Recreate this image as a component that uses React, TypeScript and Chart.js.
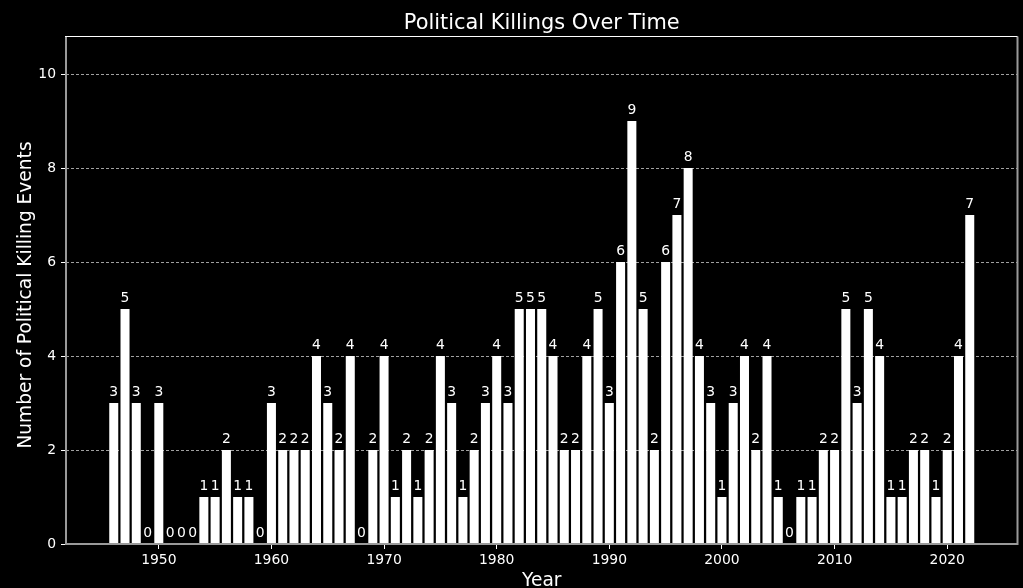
import React, { useEffect, useRef } from "react";
import { Chart, registerables } from "chart.js";

Chart.register(...registerables);

const years: number[] = [
  1946, 1947, 1948, 1949, 1950, 1951, 1952, 1953, 1954, 1955, 1956, 1957, 1958, 1959,
  1960, 1961, 1962, 1963, 1964, 1965, 1966, 1967, 1968, 1969,
  1970, 1971, 1972, 1973, 1974, 1975, 1976, 1977, 1978, 1979,
  1980, 1981, 1982, 1983, 1984, 1985, 1986, 1987, 1988, 1989,
  1990, 1991, 1992, 1993, 1994, 1995, 1996, 1997, 1998, 1999,
  2000, 2001, 2002, 2003, 2004, 2005, 2006, 2007, 2008, 2009,
  2010, 2011, 2012, 2013, 2014, 2015, 2016, 2017, 2018, 2019,
  2020, 2021, 2022,
];

const killings: number[] = [
  3, 5, 3, 0, 3, 0, 0, 0, 1, 1, 2, 1, 1, 0,
  3, 2, 2, 2, 4, 3, 2, 4, 0, 2,
  4, 1, 2, 1, 2, 4, 3, 1, 2, 3,
  4, 3, 5, 5, 5, 4, 2, 2, 4, 5,
  3, 6, 9, 5, 2, 6, 7, 8, 4, 3,
  1, 3, 4, 2, 4, 1, 0, 1, 1, 2,
  2, 5, 3, 5, 4, 1, 1, 2, 2, 1,
  2, 4, 7,
];

const xTicks: number[] = [1950, 1960, 1970, 1980, 1990, 2000, 2010, 2020];
const yTicks: number[] = [0, 2, 4, 6, 8, 10];

const titleText = "Political Killings Over Time";
const xLabel = "Year";
const yLabel = "Number of Political Killing Events";

const FONT = "'DejaVu Sans', sans-serif";

export default function App() {
  const ref = useRef<HTMLCanvasElement | null>(null);

  useEffect(() => {
    document.body.style.margin = "0";
    document.body.style.background = "#000";
    const canvas = ref.current;
    if (!canvas) return;

    const labelsPlugin = {
      id: "valueLabels",
      afterDatasetsDraw(chart: any) {
        const ctx = chart.ctx;
        const meta = chart.getDatasetMeta(0);
        ctx.save();
        ctx.fillStyle = "#ffffff";
        ctx.font = `13.9px ${FONT}`;
        ctx.textAlign = "center";
        ctx.textBaseline = "alphabetic";
        meta.data.forEach((bar: any, i: number) => {
          ctx.fillText(String(killings[i]), bar.x, bar.y - 6.7);
        });
        ctx.restore();
      },
    };

    const framePlugin = {
      id: "frameAndTitles",
      afterDraw(chart: any) {
        const ctx = chart.ctx;
        const a = chart.chartArea;
        ctx.save();
        // frame
        ctx.fillStyle = "#9a9a9a";
        ctx.fillRect(a.left - 1, a.top, 2, a.bottom - a.top + 1);
        ctx.fillRect(a.right - 1, a.top, 2, a.bottom - a.top + 1);
        ctx.fillRect(a.left - 1, a.bottom - 1, a.right - a.left + 1, 2);
        ctx.fillStyle = "#ffffff";
        ctx.fillRect(a.left - 1, a.top - 0.5, a.right - a.left + 1, 1);
        // title
        const cx = (a.left + a.right) / 2;
        ctx.fillStyle = "#ffffff";
        ctx.textAlign = "center";
        ctx.textBaseline = "alphabetic";
        ctx.font = `20.9px ${FONT}`;
        ctx.fillText(titleText, cx, 28.5);
        // x label
        ctx.font = `18.6px ${FONT}`;
        ctx.fillText(xLabel, cx, 585.5);
        // y label
        ctx.translate(31, 295);
        ctx.rotate(-Math.PI / 2);
        ctx.fillText(yLabel, 0, 0);
        ctx.restore();
      },
    };

    const chart = new Chart(canvas, {
      type: "bar",
      data: {
        datasets: [
          {
            data: years.map((y, i) => ({ x: y, y: killings[i] })),
            backgroundColor: "#ffffff",
            borderWidth: 0,
            barPercentage: 0.8,
            categoryPercentage: 1.0,
          },
        ],
      },
      options: {
        animation: false,
        responsive: false,
        devicePixelRatio: 1,
        layout: { padding: { top: 36.5, right: 5.5, left: 0, bottom: 0 } },
        plugins: {
          legend: { display: false },
          title: { display: false },
          tooltip: { enabled: false },
        },
        scales: {
          x: {
            type: "linear",
            min: 1941.76,
            max: 2026.24,
            offset: false,
            grid: {
              offset: false,
              drawOnChartArea: false,
              drawTicks: true,
              tickLength: 5,
              tickColor: "#ffffff",
              tickWidth: 1,
            },
            border: { display: false },
            afterBuildTicks: (scale: any) => {
              scale.ticks = xTicks.map((v) => ({ value: v }));
            },
            afterFit: (scale: any) => {
              scale.height = 44;
            },
            ticks: {
              color: "#ffffff",
              font: { family: FONT, size: 13.9 },
              padding: 3,
              maxRotation: 0,
              autoSkip: false,
              callback: (v: any) => String(v),
            },
          },
          y: {
            type: "linear",
            min: 0,
            max: 10.8,
            grid: {
              color: "#a0a0a0",
              lineWidth: 1,
              drawTicks: true,
              tickLength: 5,
              tickColor: "#ffffff",
              tickWidth: 1,
              tickBorderDash: [],
            },
            border: { display: false, dash: [3, 2] },
            afterBuildTicks: (scale: any) => {
              scale.ticks = yTicks.map((v) => ({ value: v }));
            },
            afterFit: (scale: any) => {
              scale.width = 66;
            },
            ticks: {
              color: "#ffffff",
              font: { family: FONT, size: 13.9 },
              padding: 5,
              autoSkip: false,
              callback: (v: any) => String(v),
            },
          },
        },
      },
      plugins: [labelsPlugin, framePlugin],
    } as any);

    return () => chart.destroy();
  }, []);

  return (
    <div
      style={{
        position: "fixed",
        left: 0,
        top: 0,
        width: 1023,
        height: 588,
        background: "#000",
      }}
    >
      <canvas ref={ref} width={1023} height={588} style={{ width: 1023, height: 588, display: "block" }} />
    </div>
  );
}
